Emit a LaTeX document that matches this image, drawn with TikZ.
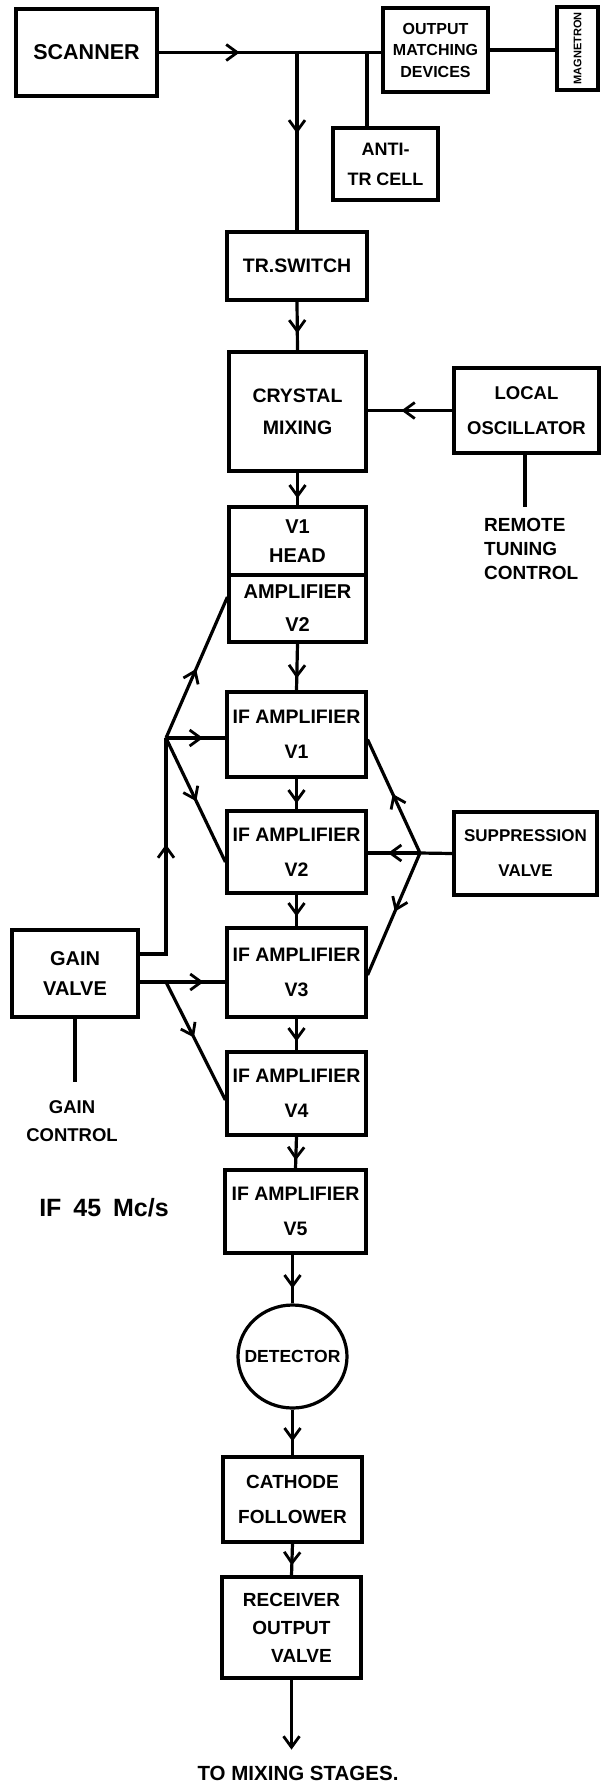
\documentclass[tikz,border=0pt]{standalone}
\usepackage{graphicx}
\usepackage{fontspec}
\setmainfont{Liberation Sans}
\usetikzlibrary{arrows.meta,decorations.markings,calc,shapes.geometric}
\begin{document}
\begin{tikzpicture}[x=1pt,y=-1pt,
  box/.style={draw, rectangle, line width=3.2pt, inner sep=0pt, align=center},
  wire/.style={line width=3.2pt},
  fs/.style 2 args={font=\fontsize{#1}{#2}\selectfont\bfseries},
  am/.style={postaction={decorate}, decoration={markings, mark=at position #1 with {\arrow{Straight Barb[length=11pt,width=16pt,line width=2.8pt]}}}},
  txt/.style={inner sep=0pt, align=center}
]
\fill[white] (0,0) rectangle (608,1786);
\useasboundingbox (0,0) rectangle (608,1786);

% boxes
\node[box, minimum width=141pt, minimum height=87pt, fs={21.5}{26}] (scanner) at (86.5,52.5) {SCANNER};
\node[box, minimum width=105pt, minimum height=84pt, fs={16}{21.5}] (omd) at (435.5,50) {OUTPUT\\MATCHING\\DEVICES};
\node[box, minimum width=41pt, minimum height=83pt] (mag) at (577.5,48.5) {\rotatebox{90}{\fontsize{11}{13}\selectfont\bfseries MAGNETRON}};
\node[box, minimum width=105pt, minimum height=72pt, fs={18}{30}] (antitr) at (385.5,164) {ANTI-\\TR CELL};
\node[box, minimum width=140pt, minimum height=68pt, fs={19.5}{24}] (trsw) at (297,266) {TR.SWITCH};
\node[box, minimum width=137pt, minimum height=119pt, fs={19.5}{32}] (crystal) at (297.5,411.5) {CRYSTAL\\MIXING};
\node[box, minimum width=145pt, minimum height=85pt, fs={18.5}{35}] (lo) at (526.5,410.5) {LOCAL\\OSCILLATOR};
\node[txt, anchor=west, align=left, fs={19}{24}] (remote) at (484,549) {REMOTE\\TUNING\\CONTROL};
\node[box, minimum width=137pt, minimum height=68pt, fs={20}{29}] (headtop) at (297.5,541) {V1\\HEAD};
\node[box, minimum width=137pt, minimum height=67pt, fs={20}{33}] (headbot) at (297.5,608.5) {AMPLIFIER\\V2};
\node[box, minimum width=139pt, minimum height=85pt, fs={19.5}{35}] (if1) at (296.5,734.5) {IF AMPLIFIER\\V1};
\node[box, minimum width=139pt, minimum height=82pt, fs={19.5}{35}] (if2) at (296.5,852) {IF AMPLIFIER\\V2};
\node[box, minimum width=139pt, minimum height=89pt, fs={19.5}{35}] (if3) at (296.5,972.5) {IF AMPLIFIER\\V3};
\node[box, minimum width=139pt, minimum height=83pt, fs={19.5}{35}] (if4) at (296.5,1093.5) {IF AMPLIFIER\\V4};
\node[box, minimum width=141pt, minimum height=83pt, fs={19.5}{35}] (if5) at (295.5,1211.5) {IF AMPLIFIER\\V5};
\node[box, minimum width=143pt, minimum height=83pt, fs={17}{35}] (supp) at (525.5,853.5) {SUPPRESSION\\VALVE};
\node[box, minimum width=126pt, minimum height=87pt, fs={20}{30}] (gain) at (75,973.5) {GAIN\\VALVE};
\node[txt, fs={18.5}{28}] (gainctl) at (72,1121) {GAIN\\CONTROL};
\node[txt, fs={25}{30}] (iffreq) at (104,1208) {IF\hspace{5pt} 45\hspace{5pt} Mc/s};
\node[draw, ellipse, line width=3.2pt, inner sep=0pt, minimum width=109pt, minimum height=103pt, fs={17.5}{22}] (det) at (292.5,1356.5) {\makebox[0pt]{DETECTOR}};
\node[box, minimum width=139pt, minimum height=85pt, fs={19}{35}] (cath) at (292.5,1499.5) {CATHODE\\FOLLOWER};
\node[box, minimum width=139pt, minimum height=101pt, fs={19}{28}] (recv) at (291.5,1627.5) {RECEIVER\\OUTPUT\\\hspace*{20pt}VALVE};
\node[txt, fs={20.5}{24}] (tomix) at (298,1773) {TO MIXING STAGES.};

% junctions
\coordinate (j1) at (trsw.north |- scanner.east);
\coordinate (j2) at (367,52.5);
\coordinate (rt) at (525,507);
\coordinate (sj) at (420,853);
\coordinate (gj) at (166,738);
\coordinate (g1) at (166,954);
\coordinate (g2) at (166,982);
\coordinate (gc) at (75,1082);
\coordinate (outend) at ($(recv.south)+(0,70)$);

% top
\draw[wire, am=81pt] (scanner.east) -- (scanner.east -| omd.west);
\draw[wire, am=81pt] (j1) -- (trsw.north);
\draw[wire] (j2) -- (j2 |- antitr.north);
\draw[wire] (omd.east) -- (omd.east -| mag.west);
\draw[wire, am=-17pt] (trsw.south) -- (crystal.north);
\draw[wire, am=51pt] (lo.west) -- (lo.west -| crystal.east);
\draw[wire] (lo.south -| rt) -- (rt);

% main chain
\draw[wire, am=-7pt] (crystal.south) -- (headtop.north);
\draw[wire, am=-12pt] (headbot.south) -- (if1.north);
\draw[wire, am=-6pt] (if1.south) -- (if2.north);
\draw[wire, am=-10pt] (if2.south) -- (if3.north);
\draw[wire, am=-9pt] (if3.south) -- (if4.north);
\draw[wire, am=-8pt] (if4.south) -- (if5.north);
\draw[wire, am=-15pt] (det.north |- if5.south) -- (det.north);
\draw[wire, am=-14pt] (det.south) -- (cath.north);
\draw[wire, am=-10pt] (cath.south) -- (recv.north);
\draw[wire, -{Straight Barb[length=11pt,width=16pt,line width=2.8pt]}] (recv.south) -- (outend);

% suppression
\draw[wire] (supp.west) -- (sj);
\draw[wire, am=32pt] (sj) -- (sj -| if2.east);
\draw[wire, am=0.52] (sj) -- ($(if1.east)+(0,5)$);
\draw[wire, am=0.48] (sj) -- ($(if3.east)+(0,2.5)$);

% gain
\draw[wire, am=136pt] (gain.east |- g1) -- (g1) -- (gj);
\draw[wire, am=37pt] (gj) -- (gj -| if1.west);
\draw[wire, am=0.49] (gj) -- ($(headbot.west)+(0,-11.5)$);
\draw[wire, am=0.51] (gj) -- ($(if2.west)+(0,10)$);
\draw[wire, am=64pt] (gain.east |- g2) -- (g2 -| if3.west);
\draw[wire, am=0.47] (g2) -- ($(if4.west)+(0,6.5)$);
\draw[wire] (gain.south) -- (gc);
\end{tikzpicture}
\end{document}
